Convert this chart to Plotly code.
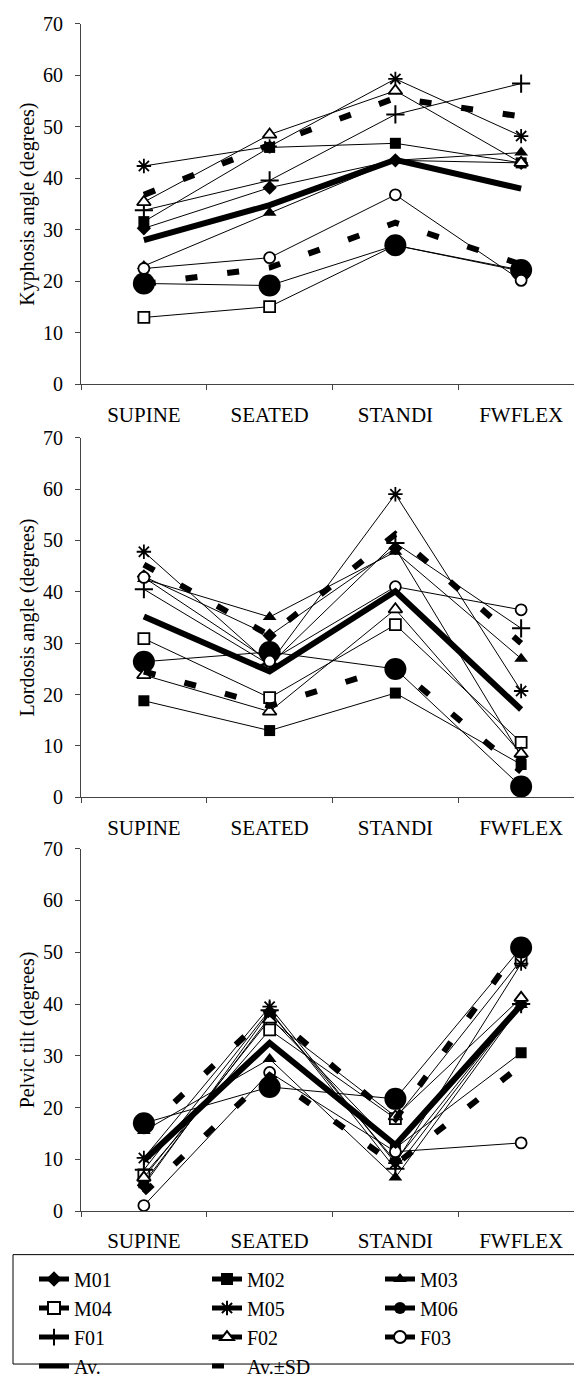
import plotly.graph_objects as go

# ---------------- data ----------------
categories = ["SUPINE", "SEATED", "STANDI", "FWFLEX"]
subjects = ["M01", "M02", "M03", "M04", "M05", "M06", "F01", "F02", "F03"]
y_ticks = [0, 10, 20, 30, 40, 50, 60, 70]

# Kyphosis angle (degrees)
kyph_M01 = [30.3, 38.2, 43.5, 43.0]
kyph_M02 = [31.6, 46.0, 46.8, 43.0]
kyph_M03 = [23.0, 33.3, 43.5, 45.0]
kyph_M04 = [13.0, 15.1, 27.0, 22.0]
kyph_M05 = [42.4, 46.2, 59.3, 48.2]
kyph_M06 = [19.6, 19.2, 27.0, 22.2]
kyph_F01 = [33.8, 39.6, 52.4, 58.4]
kyph_F02 = [35.4, 48.5, 57.0, 43.0]
kyph_F03 = [22.5, 24.6, 36.8, 20.2]
kyph_av = [28.0, 34.8, 43.6, 38.0]
kyph_av_plus_sd = [36.8, 46.5, 55.6, 52.0]
kyph_av_minus_sd = [19.5, 22.7, 31.4, 23.3]

# Lordosis angle (degrees)
lord_M01 = [43.0, 31.5, 48.5, 8.0]
lord_M02 = [18.8, 13.0, 20.3, 6.4]
lord_M03 = [42.5, 35.1, 47.8, 27.0]
lord_M04 = [30.9, 19.4, 33.6, 10.7]
lord_M05 = [47.8, 26.0, 59.0, 20.7]
lord_M06 = [26.4, 28.3, 25.0, 2.1]
lord_F01 = [40.5, 25.8, 49.5, 32.9]
lord_F02 = [23.8, 16.7, 36.6, 8.5]
lord_F03 = [42.8, 26.5, 41.0, 36.5]
lord_av = [35.2, 24.5, 40.1, 17.1]
lord_av_plus_sd = [45.3, 31.5, 51.2, 30.0]
lord_av_minus_sd = [24.5, 17.8, 25.5, 5.0]

# Pelvic tilt (degrees)
pelv_M01 = [5.0, 38.5, 9.7, 40.0]
pelv_M02 = [5.5, 37.5, 12.2, 30.6]
pelv_M03 = [15.5, 29.4, 6.5, 39.8]
pelv_M04 = [7.0, 35.0, 17.9, 48.5]
pelv_M05 = [10.3, 39.5, 9.3, 47.8]
pelv_M06 = [17.0, 24.0, 21.7, 50.9]
pelv_F01 = [8.0, 38.8, 8.2, 40.0]
pelv_F02 = [6.5, 37.0, 18.3, 41.2]
pelv_F03 = [1.1, 26.8, 11.5, 13.2]
pelv_av = [9.8, 32.5, 12.8, 39.8]
pelv_av_plus_sd = [15.5, 38.3, 17.8, 51.5]
pelv_av_minus_sd = [3.5, 26.3, 9.0, 28.2]

panels = [
    dict(title="Kyphosis angle (degrees)",
         series=[kyph_M01, kyph_M02, kyph_M03, kyph_M04, kyph_M05, kyph_M06,
                 kyph_F01, kyph_F02, kyph_F03],
         av=kyph_av, hi=kyph_av_plus_sd, lo=kyph_av_minus_sd),
    dict(title="Lordosis angle (degrees)",
         series=[lord_M01, lord_M02, lord_M03, lord_M04, lord_M05, lord_M06,
                 lord_F01, lord_F02, lord_F03],
         av=lord_av, hi=lord_av_plus_sd, lo=lord_av_minus_sd),
    dict(title="Pelvic tilt (degrees)",
         series=[pelv_M01, pelv_M02, pelv_M03, pelv_M04, pelv_M05, pelv_M06,
                 pelv_F01, pelv_F02, pelv_F03],
         av=pelv_av, hi=pelv_av_plus_sd, lo=pelv_av_minus_sd),
]

# ---------------- styles ----------------
W, H = 582, 1378
FONT = "Liberation Serif"
FS = 20

marker_styles = {
    "M01": dict(symbol="diamond", size=11, color="black", line=dict(width=0)),
    "M02": dict(symbol="square", size=11, color="black", line=dict(width=0)),
    "M03": dict(symbol="triangle-up", size=12, color="black", line=dict(width=0)),
    "M04": dict(symbol="square", size=11, color="white", line=dict(width=1.8, color="black")),
    "M05": dict(symbol="asterisk-open", size=12, color="black", line=dict(width=1.8, color="black")),
    "M06": dict(symbol="circle", size=22, color="black", line=dict(width=0)),
    "F01": dict(symbol="cross-thin-open", size=13, color="black", line=dict(width=2, color="black")),
    "F02": dict(symbol="triangle-up", size=12, color="white", line=dict(width=1.8, color="black")),
    "F03": dict(symbol="circle", size=11, color="white", line=dict(width=1.8, color="black")),
}

x0p, x1p = 73 / W, 576 / W
ydoms = [(1 - 382 / H, 1 - 16 / H), (1 - 801 / H, 1 - 436 / H), (1 - 1221 / H, 1 - 853 / H)]

fig = go.Figure()
for i, p in enumerate(panels):
    xa = "x" if i == 0 else f"x{i+1}"
    ya = "y" if i == 0 else f"y{i+1}"
    first = i == 0
    for name, vals in zip(subjects, p["series"]):
        fig.add_trace(go.Scatter(
            x=categories, y=vals, name=name, mode="lines+markers",
            line=dict(color="black", width=1), marker=marker_styles[name],
            xaxis=xa, yaxis=ya, showlegend=first, legendgroup=name, cliponaxis=False))
    fig.add_trace(go.Scatter(
        x=categories, y=p["av"], name="Av.", mode="lines",
        line=dict(color="black", width=6), xaxis=xa, yaxis=ya,
        showlegend=first, legendgroup="av", cliponaxis=False))
    fig.add_trace(go.Scatter(
        x=categories, y=p["hi"], name="Av.±SD", mode="lines",
        line=dict(color="black", width=6, dash="12px,30px"), xaxis=xa, yaxis=ya,
        showlegend=first, legendgroup="sd", cliponaxis=False))
    fig.add_trace(go.Scatter(
        x=categories, y=p["lo"], name="Av.±SD", mode="lines",
        line=dict(color="black", width=6, dash="12px,30px"), xaxis=xa, yaxis=ya,
        showlegend=False, legendgroup="sd", cliponaxis=False))

axis_common = dict(showline=True, linecolor="#444", linewidth=1, ticks="outside",
                   ticklen=5, tickcolor="#444", showgrid=False, zeroline=False,
                   automargin=False)
layout = dict(width=W, height=H, margin=dict(l=0, r=0, t=0, b=0),
              paper_bgcolor="white", plot_bgcolor="white",
              font=dict(family=FONT, size=FS, color="black"))
for i, p in enumerate(panels):
    xk = "xaxis" if i == 0 else f"xaxis{i+1}"
    yk = "yaxis" if i == 0 else f"yaxis{i+1}"
    ya = "y" if i == 0 else f"y{i+1}"
    xa = "x" if i == 0 else f"x{i+1}"
    layout[xk] = dict(axis_common, domain=[x0p, x1p], anchor=ya, type="category",
                      categoryorder="array", categoryarray=categories,
                      range=[-0.5, 3.5], tickson="boundaries", ticklabelstandoff=11,
                      tickfont=dict(family=FONT, size=21, color="black"))
    layout[yk] = dict(axis_common, domain=list(ydoms[i]), anchor=xa, range=[0, 70],
                      tickvals=y_ticks, ticklabelstandoff=8,
                      tickfont=dict(family=FONT, size=FS, color="black"),
                      title=dict(text=p["title"], standoff=2,
                                 font=dict(family=FONT, size=FS, color="black")))

layout["legend"] = dict(orientation="h", x=26 / W, xanchor="left", y=1 - 1270 / H,
                        yanchor="top", entrywidth=128, entrywidthmode="pixels",
                        bgcolor="rgba(0,0,0,0)", borderwidth=0, itemsizing="constant",
                        font=dict(family=FONT, size=FS, color="black"),
                        traceorder="normal", tracegroupgap=0)
layout["shapes"] = [dict(type="rect", xref="paper", yref="paper",
                         x0=5 / W, x1=577 / W, y0=1 - 1376 / H, y1=1 - 1265 / H,
                         line=dict(color="black", width=1), fillcolor="rgba(0,0,0,0)")]
fig.update_layout(**layout)
fig.write_html("out.html")
